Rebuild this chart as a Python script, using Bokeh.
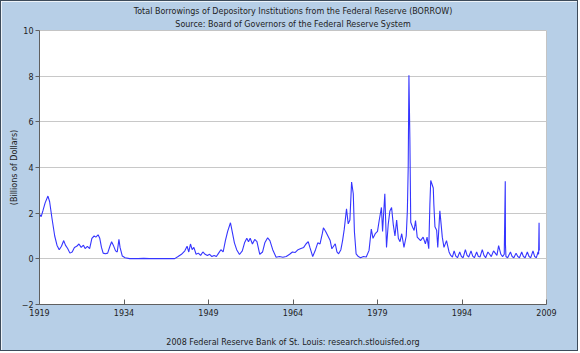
from bokeh.plotting import figure
from bokeh.models import FixedTicker, Range1d, Title
from bokeh.embed import file_html
from bokeh.resources import INLINE

title1 = "Total Borrowings of Depository Institutions from the Federal Reserve (BORROW)"
title2 = "Source: Board of Governors of the Federal Reserve System"
footer = "2008 Federal Reserve Bank of St. Louis: research.stlouisfed.org"
y_label = "(Billions of Dollars)"
x_ticks = [1919, 1934, 1949, 1964, 1979, 1994, 2009]
y_ticks = [-2, 0, 2, 4, 6, 8, 10]

years = [
    1919.0, 1919.3, 1919.6, 1920.0, 1920.5, 1920.8, 1921.2, 1921.7, 1922.1, 1922.5,
    1922.9, 1923.3, 1923.6, 1924.0, 1924.4, 1924.8, 1925.2, 1925.6, 1926.0, 1926.4,
    1926.8, 1927.1, 1927.5, 1927.9, 1928.3, 1928.7, 1929.0, 1929.4, 1929.7, 1930.0,
    1930.3, 1930.7, 1931.1, 1931.5, 1931.8, 1932.1, 1932.5, 1932.8, 1933.1, 1933.3,
    1933.7, 1934.2, 1935.0, 1936.5, 1937.5, 1938.5, 1940.0, 1942.0, 1943.0, 1943.6,
    1944.2, 1944.8, 1945.2, 1945.5, 1945.8, 1946.1, 1946.4, 1946.8, 1947.2, 1947.6,
    1948.0, 1948.4, 1948.8, 1949.2, 1949.6, 1950.0, 1950.4, 1950.8, 1951.2, 1951.6,
    1952.0, 1952.4, 1952.9, 1953.2, 1953.6, 1954.0, 1954.5, 1955.0, 1955.4, 1955.8,
    1956.1, 1956.4, 1956.8, 1957.2, 1957.6, 1958.1, 1958.6, 1959.0, 1959.5, 1959.9,
    1960.4, 1961.0, 1961.6, 1962.2, 1962.8, 1963.4, 1963.9, 1964.4, 1964.9, 1965.4,
    1965.9, 1966.3, 1966.7, 1967.0, 1967.5, 1968.0, 1968.4, 1968.8, 1969.2, 1969.4,
    1969.8, 1970.2, 1970.6, 1970.9, 1971.2, 1971.5, 1971.8, 1972.1, 1972.5, 1972.8,
    1973.1, 1973.5, 1973.8, 1974.1, 1974.4, 1974.7, 1974.9, 1975.2, 1975.6, 1976.0,
    1976.5, 1977.0, 1977.5, 1977.9, 1978.2, 1978.6, 1979.0, 1979.3, 1979.7, 1979.9,
    1980.3, 1980.6, 1980.9, 1981.2, 1981.5, 1981.8, 1982.1, 1982.4, 1982.7, 1983.0,
    1983.3, 1983.7, 1984.1, 1984.3, 1984.45, 1984.58, 1984.75, 1984.9, 1985.2, 1985.5,
    1985.75, 1986.05, 1986.64, 1987.1, 1987.5, 1987.8, 1988.1, 1988.3, 1988.45, 1988.9,
    1989.0, 1989.2, 1989.5, 1989.7, 1990.07, 1990.3, 1990.5, 1990.8, 1991.25, 1991.7,
    1992.0, 1992.3, 1992.6, 1992.9, 1993.2, 1993.6, 1993.9, 1994.2, 1994.6, 1994.9,
    1995.2, 1995.6, 1995.9, 1996.2, 1996.6, 1996.9, 1997.2, 1997.6, 1997.9, 1998.2,
    1998.6, 1998.9, 1999.2, 1999.6, 1999.9, 2000.2, 2000.5, 2000.9, 2001.2, 2001.5,
    2001.68, 2001.72, 2001.8, 2002.1, 2002.6, 2002.9, 2003.2, 2003.6, 2003.9, 2004.2,
    2004.6, 2004.9, 2005.2, 2005.6, 2005.9, 2006.2, 2006.6, 2006.9, 2007.2, 2007.5,
    2007.6, 2007.68, 2007.72,
]
borrowings = [
    1.95, 1.85, 2.1, 2.45, 2.75, 2.5, 1.8, 1.0, 0.6, 0.4,
    0.55, 0.8, 0.6, 0.45, 0.25, 0.3, 0.5, 0.55, 0.65, 0.5,
    0.6, 0.45, 0.55, 0.45, 0.9, 1.0, 0.95, 1.05, 0.9, 0.5,
    0.25, 0.22, 0.25, 0.55, 0.75, 0.6, 0.35, 0.3, 0.85, 0.5,
    0.12, 0.05, 0.01, 0.01, 0.02, 0.01, 0.01, 0.01, 0.01, 0.1,
    0.2, 0.35, 0.55, 0.3, 0.65, 0.4, 0.5, 0.2, 0.25, 0.15,
    0.3, 0.2, 0.15, 0.2, 0.1, 0.15, 0.1, 0.25, 0.4, 0.3,
    0.8, 1.2, 1.58, 1.2, 0.7, 0.4, 0.19, 0.35, 0.7, 0.9,
    0.75, 0.9, 0.65, 0.85, 0.75, 0.2, 0.3, 0.7, 0.92, 0.8,
    0.4, 0.07, 0.1, 0.07, 0.1, 0.2, 0.3, 0.28, 0.4, 0.45,
    0.5, 0.65, 0.75, 0.5, 0.1, 0.4, 0.7, 0.65, 1.1, 1.36,
    1.2, 1.0, 0.8, 0.44, 0.55, 0.66, 0.3, 0.22, 0.4, 0.8,
    1.3, 2.19, 1.53, 1.7, 3.36, 2.85, 1.2, 0.22, 0.1, 0.05,
    0.1, 0.08, 0.37, 1.3, 0.9, 1.1, 1.2, 1.68, 2.25, 1.2,
    2.85, 0.5, 1.5, 2.1, 2.25, 1.5, 1.0, 1.7, 0.9, 0.75,
    1.1, 0.5, 1.0, 2.1, 4.0, 8.04, 5.2, 1.6, 1.4, 1.24,
    1.68, 0.95, 0.8, 0.95, 0.66, 0.95, 0.44, 2.4, 3.43, 3.1,
    2.4, 1.4, 1.25, 0.5, 2.1, 1.5, 0.95, 0.5, 0.8, 0.3,
    0.15, 0.08, 0.35, 0.12, 0.05, 0.3, 0.1, 0.05, 0.4, 0.15,
    0.08, 0.35, 0.12, 0.05, 0.3, 0.1, 0.08, 0.4, 0.15, 0.05,
    0.3, 0.2, 0.1, 0.35, 0.25, 0.15, 0.58, 0.2, 0.1, 0.2,
    3.4, 0.6, 0.1, 0.05, 0.3, 0.1, 0.05, 0.25, 0.1, 0.05,
    0.3, 0.1, 0.05, 0.3, 0.1, 0.05, 0.35, 0.1, 0.05, 0.3,
    0.2, 1.58, 0.36,
]

FONT = "DejaVu Sans"
BG = "#b7cfe7"
TXT = "#222222"

p = figure(width=578, height=351,
           x_range=Range1d(x_ticks[0], x_ticks[-1]),
           y_range=Range1d(y_ticks[0], y_ticks[-1]),
           output_backend="svg", toolbar_location=None,
           min_border_left=38, min_border_right=33,
           min_border_top=29, min_border_bottom=48)
p.styles = {"border": "1px solid #3d4b5a"}
p.border_fill_color = BG
p.background_fill_color = "white"
p.outline_line_color = "#c4c4c4"

# the Title added last sits nearest the frame
p.title.text = title1
p.title.align = "center"
p.title.text_font = FONT
p.title.text_font_size = "8px"
p.title.text_font_style = "normal"
p.title.text_color = TXT
p.title.standoff = 1
p.add_layout(Title(text=title2, align="center", text_font=FONT, text_font_size="8px",
                   text_font_style="normal", text_color=TXT, standoff=3), "above")

p.line(years, borrowings, line_color="#3535ff", line_width=1.1)

p.xaxis.ticker = FixedTicker(ticks=x_ticks)
p.xaxis.major_tick_in = 5
p.xaxis.major_tick_out = 0
p.xaxis.minor_tick_line_color = None
p.xaxis.axis_line_color = "#606060"
p.xaxis.major_tick_line_color = "#606060"
p.xaxis.major_label_text_font = FONT
p.xaxis.major_label_text_font_size = "8px"
p.xaxis.major_label_text_color = TXT
p.xaxis.major_label_standoff = 4
p.xaxis.axis_label = footer
p.xaxis.axis_label_text_font = FONT
p.xaxis.axis_label_text_font_size = "8px"
p.xaxis.axis_label_text_font_style = "normal"
p.xaxis.axis_label_text_color = TXT
p.xaxis.axis_label_standoff = 19
p.xgrid.visible = False

p.yaxis.ticker = FixedTicker(ticks=y_ticks)
p.yaxis.major_tick_in = 0
p.yaxis.major_tick_out = 4
p.yaxis.minor_tick_line_color = None
p.yaxis.axis_line_color = "#606060"
p.yaxis.major_tick_line_color = "#606060"
p.yaxis.major_label_text_font = FONT
p.yaxis.major_label_text_font_size = "8px"
p.yaxis.major_label_text_color = TXT
p.yaxis.major_label_standoff = 2
p.yaxis.axis_label = y_label
p.yaxis.axis_label_text_font = FONT
p.yaxis.axis_label_text_font_size = "8px"
p.yaxis.axis_label_text_font_style = "normal"
p.yaxis.axis_label_text_color = TXT
p.yaxis.axis_label_standoff = 0
p.ygrid.ticker = FixedTicker(ticks=y_ticks)
p.ygrid.grid_line_color = "#c8c8c8"

open("out.html", "w").write(file_html(p, INLINE))
